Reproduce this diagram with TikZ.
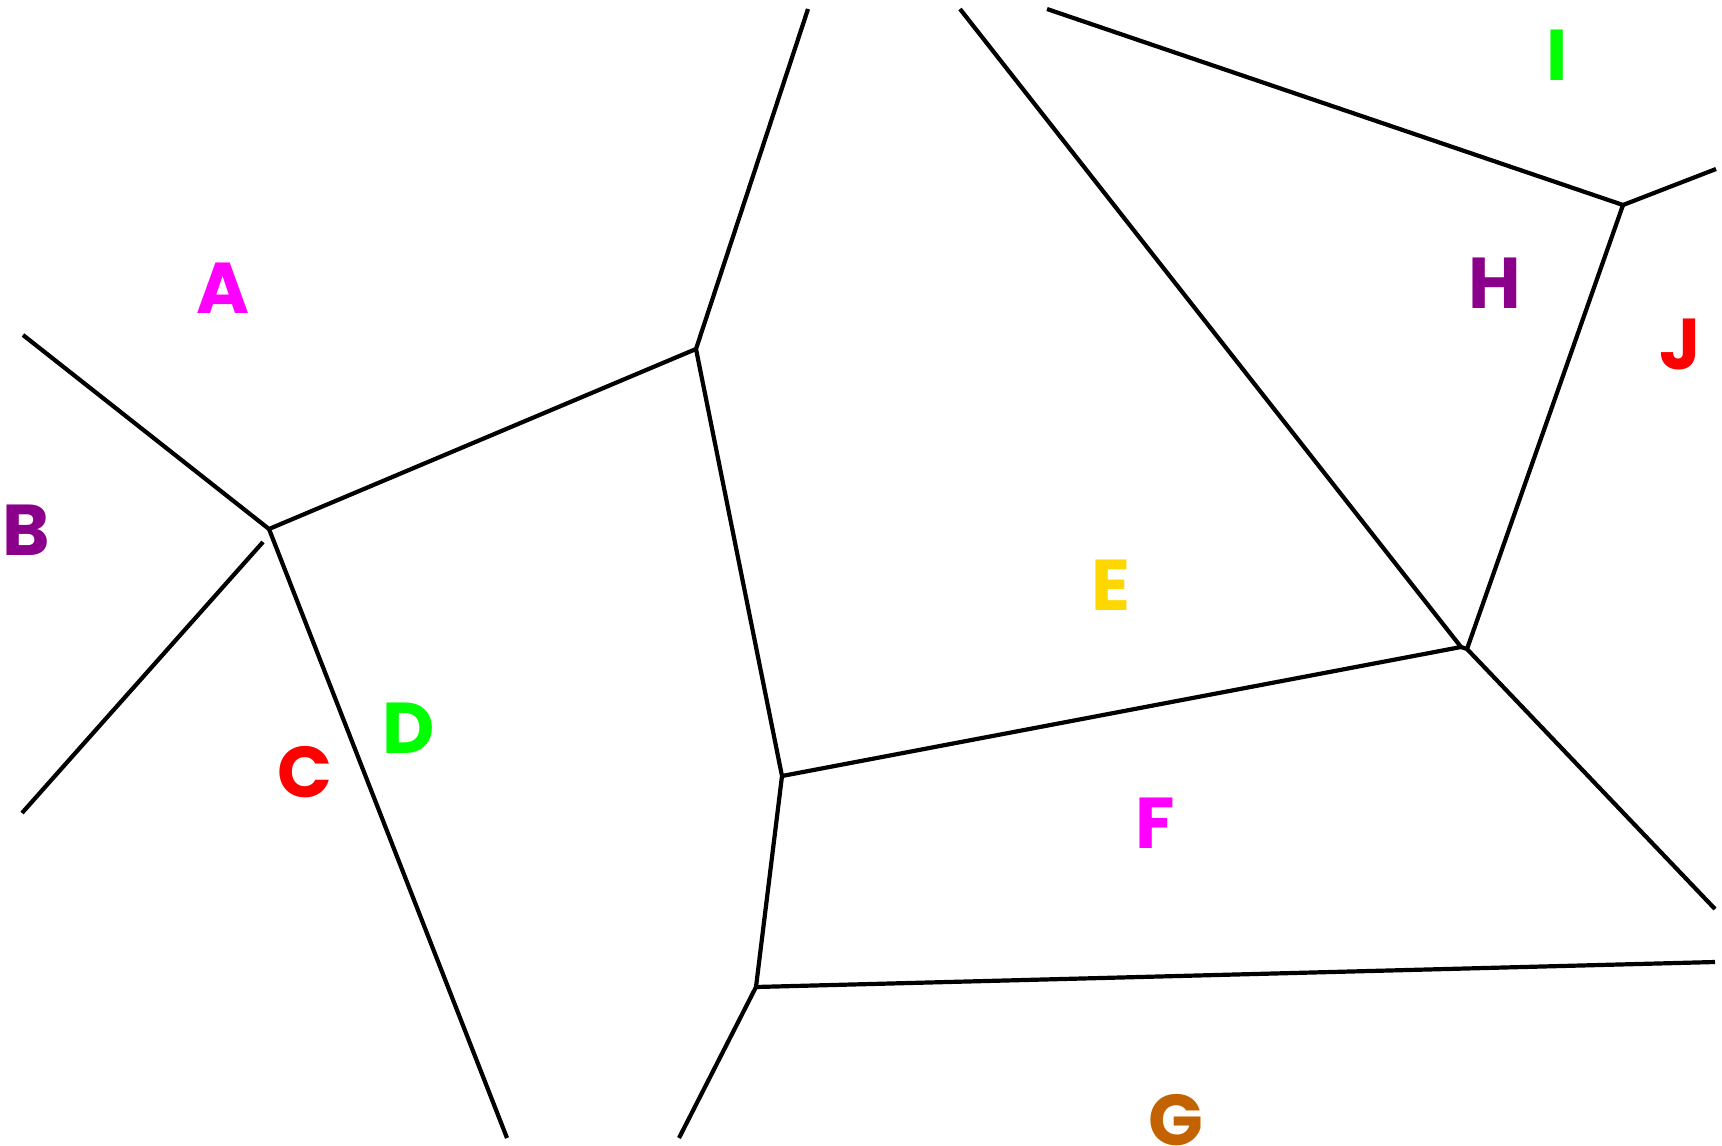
\documentclass[tikz,border=0pt]{standalone}
\usepackage{fontspec}
\newfontfamily\regionfont{Poppins}
\usetikzlibrary{positioning}
\definecolor{regmagenta}{RGB}{255,0,255}
\definecolor{regpurple}{RGB}{139,0,139}
\definecolor{regred}{RGB}{255,0,0}
\definecolor{reggreen}{RGB}{0,255,0}
\definecolor{reggold}{RGB}{255,215,0}
\definecolor{regbrown}{RGB}{195,98,0}
\tikzset{
  edge/.style={black,line width=4.2pt},
  region/.style={inner sep=0pt,font=\regionfont\bfseries\fontsize{72}{72}\selectfont},
}
\begin{document}
\begin{tikzpicture}[x=1pt,y=-1pt]
  \useasboundingbox (0,0) rectangle (1722,1146);
  % vertices of the cells
  \coordinate (va) at (269,529);
  \coordinate (vb) at (696,349);
  \coordinate (vc) at (782,776);
  \coordinate (vd) at (756,987);
  \coordinate (ve) at (1461,647);
  \coordinate (vf) at (1467,649);
  \coordinate (vg) at (1623,205);
  % open ends at the border
  \coordinate (oa) at (23,335);
  \coordinate (ob1) at (263,542);
  \coordinate (ob2) at (22,813);
  \coordinate (oc) at (507,1138);
  \coordinate (od) at (808,9);
  \coordinate (oe) at (679,1138);
  \coordinate (of) at (1715,962);
  \coordinate (og) at (960,9);
  \coordinate (oh) at (1715,909);
  \coordinate (oi) at (1047,9);
  \coordinate (oj) at (1716,169);

  \draw[edge] (oa) -- (va) -- (vb) -- (od);
  \draw[edge] (ob1) -- (ob2);
  \draw[edge] (va) -- (oc);
  \draw[edge] (vb) -- (vc) -- (vd) -- (oe);
  \draw[edge] (vd) -- (of);
  \draw[edge] (vc) -- (ve);
  \draw[edge] (og) -- (ve) -- (vf) -- (oh);
  \draw[edge] (vf) -- (vg) -- (oi);
  \draw[edge] (vg) -- (oj);

  % region labels
  \node[region,text=regmagenta] (lA) at (223,288) {A};
  \node[region,text=regpurple] (lB) at (26,530) {B};
  \node[region,text=regred] (lC) at (305,772) {C};
  \node[region,text=reggreen] (lD) at (409,728) {D};
  \node[region,text=reggold] (lE) at (1111,585) {E};
  \node[region,text=regmagenta] (lF) at (1155,823) {F};
  \node[region,text=regbrown] (lG) at (1176,1120) {G};
  \node[region,text=regpurple] (lH) at (1495,283) {H};
  \node[region,text=reggreen] (lI) at (1557,55) {I};
  \node[region,text=regred] (lJ) at (1680,344) {J};
\end{tikzpicture}
\end{document}
